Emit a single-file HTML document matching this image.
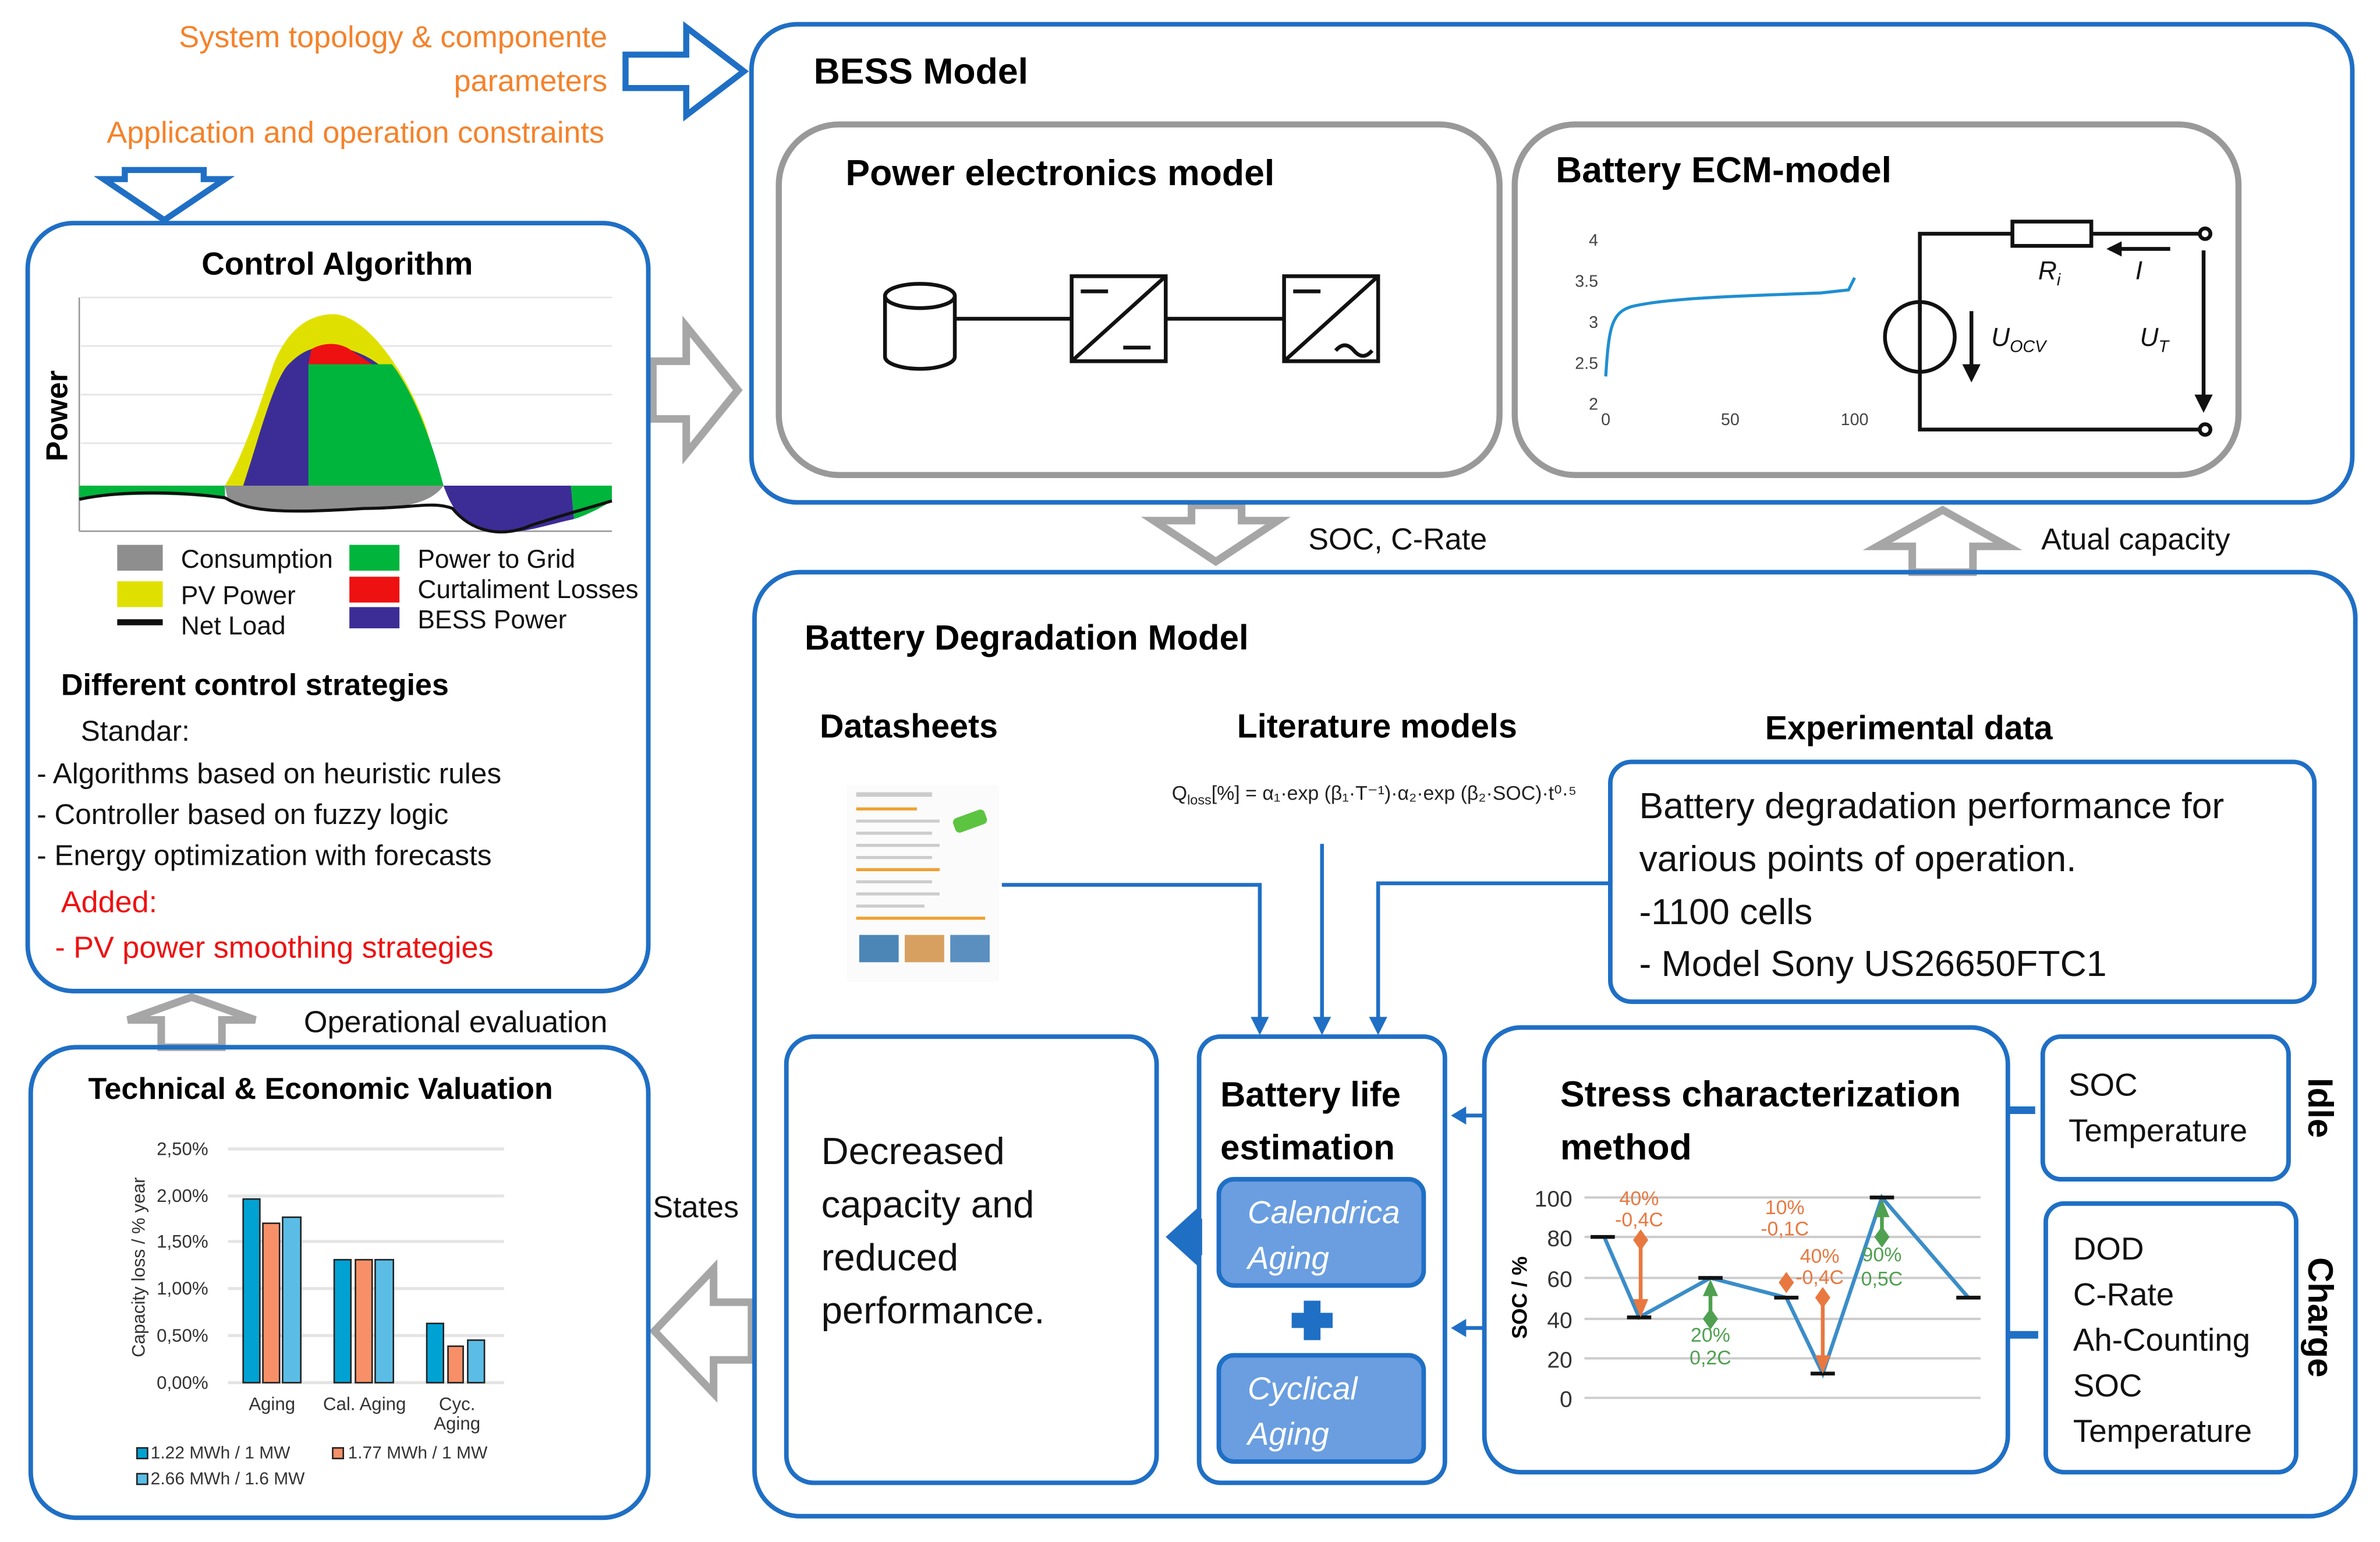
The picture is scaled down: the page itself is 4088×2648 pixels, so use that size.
<!DOCTYPE html>
<html><head><meta charset="utf-8"><style>
html,body{margin:0;padding:0;background:#fff}
svg{display:block}
text{font-family:"Liberation Sans",sans-serif}
</style></head><body>
<svg width="4088" height="2648" viewBox="0 0 1568 1016" xmlns="http://www.w3.org/2000/svg">
<rect width="1568" height="1016" fill="#fff"/>
<g fill="#f5822a" font-size="20">
<text x="400" y="31" text-anchor="end">System topology &amp; componente</text>
<text x="400" y="60" text-anchor="end">parameters</text>
<text x="398" y="94" text-anchor="end">Application and operation constraints</text>
</g>
<polygon points="412,36 452,36 452,18 490,47 452,76 452,58 412,58" fill="#fff" stroke="#1f6fc5" stroke-width="4"/>
<polygon points="82,112 134,112 134,118 148,118 108,145 68,118 82,118" fill="#fff" stroke="#1f6fc5" stroke-width="4"/>
<g fill="#fff" stroke="#a6a6a6" stroke-width="5">
<polygon points="430,238 452,238 452,215 486,257 452,299 452,276 430,276"/>
<polygon points="785,333 818,333 818,343 842,343 801,370 760,343 785,343"/>
<polygon points="1260,377 1300,377 1300,360 1323,360 1280,336 1237,360 1260,360"/>
<polygon points="106,690 146,690 146,672 168,672 126,657 84,672 106,672"/>
<polygon points="495,858 470,858 470,836 431,877 470,918 470,896 495,896"/>
</g>
<g font-size="20" fill="#111">
<text x="862" y="362">SOC, C-Rate</text>
<text x="1345" y="362">Atual capacity</text>
<text x="200" y="680">Operational evaluation</text>
<text x="430" y="802">States</text>
</g>
<rect x="495" y="16" width="1055" height="315" rx="30" fill="none" stroke="#1f6fc5" stroke-width="3"/>
<text x="536" y="55" font-size="24" font-weight="bold">BESS Model</text>
<rect x="513" y="82" width="475" height="231" rx="40" fill="none" stroke="#999" stroke-width="4"/>
<text x="557" y="122" font-size="24" font-weight="bold">Power electronics model</text>
<rect x="998" y="82" width="477" height="231" rx="40" fill="none" stroke="#999" stroke-width="4"/>
<text x="1025" y="120" font-size="24" font-weight="bold">Battery ECM-model</text>
<g stroke="#111" stroke-width="2.5" fill="none">
<path d="M583,195 v40 a23,8 0 0 0 46,0 v-40"/>
<ellipse cx="606" cy="195" rx="23" ry="8"/>
<line x1="629" y1="210" x2="706" y2="210"/>
<rect x="706" y="182" width="62" height="56"/>
<line x1="706" y1="238" x2="768" y2="182"/>
<line x1="712" y1="192" x2="730" y2="192"/>
<line x1="740" y1="229" x2="758" y2="229"/>
<line x1="768" y1="210" x2="846" y2="210"/>
<rect x="846" y="182" width="62" height="56"/>
<line x1="846" y1="238" x2="908" y2="182"/>
<line x1="852" y1="192" x2="870" y2="192"/>
<path d="M880,231 q6,-7 12,0 t12,0"/>
</g>
<g font-size="11" fill="#444">
<text x="1053" y="162" text-anchor="end">4</text>
<text x="1053" y="189" text-anchor="end">3.5</text>
<text x="1053" y="216" text-anchor="end">3</text>
<text x="1053" y="243" text-anchor="end">2.5</text>
<text x="1053" y="270" text-anchor="end">2</text>
<text x="1058" y="280" text-anchor="middle">0</text>
<text x="1140" y="280" text-anchor="middle">50</text>
<text x="1222" y="280" text-anchor="middle">100</text>
</g>
<path d="M1058,248 C1060,215 1062,206 1075,202 C1100,196 1150,195 1200,193 L1218,191 L1222,183" fill="none" stroke="#1f8fd0" stroke-width="2"/>
<g stroke="#111" stroke-width="2.5" fill="none">
<polyline points="1265,205 1265,154 1326,154"/>
<rect x="1326" y="146" width="52" height="16"/>
<line x1="1378" y1="154" x2="1450" y2="154"/>
<circle cx="1265" cy="222" r="23"/>
<line x1="1265" y1="199" x2="1265" y2="245"/>
<polyline points="1265,245 1265,283 1450,283"/>
<circle cx="1453" cy="154" r="3.5" fill="#fff"/>
<circle cx="1453" cy="283" r="3.5" fill="#fff"/>
<line x1="1299" y1="205" x2="1299" y2="243"/>
<line x1="1452" y1="165" x2="1452" y2="262"/>
<line x1="1390" y1="164" x2="1430" y2="164"/>
</g>
<polygon points="1293,240 1305,240 1299,252" fill="#111"/>
<polygon points="1446,260 1458,260 1452,272" fill="#111"/>
<polygon points="1388,164 1398,159 1398,169" fill="#111"/>
<g font-size="17" font-style="italic" fill="#111">
<text x="1343" y="184">R<tspan font-size="11" dy="4">i</tspan></text>
<text x="1407" y="184">I</text>
<text x="1312" y="228">U<tspan font-size="11" dy="4">OCV</tspan></text>
<text x="1410" y="228">U<tspan font-size="11" dy="4">T</tspan></text>
</g>
<rect x="18" y="147" width="409" height="506" rx="30" fill="none" stroke="#1f6fc5" stroke-width="3"/>
<text x="222" y="181" font-size="21" font-weight="bold" text-anchor="middle">Control Algorithm</text>
<g stroke="#e4e4e4" stroke-width="1">
<line x1="53" y1="196" x2="403" y2="196"/><line x1="53" y1="228" x2="403" y2="228"/>
<line x1="53" y1="260" x2="403" y2="260"/><line x1="53" y1="292" x2="403" y2="292"/>
</g>
<line x1="52" y1="196" x2="52" y2="350" stroke="#999"/>
<line x1="52" y1="350" x2="403" y2="350" stroke="#999"/>
<text transform="translate(44,274) rotate(-90)" font-size="20" font-weight="bold" text-anchor="middle">Power</text>
<path d="M148,320 C160,300 170,270 180,240 C190,215 205,207 220,207 C240,208 265,240 280,280 L292,320 Z" fill="#e0e000"/>
<path d="M160,320 C170,290 180,250 190,240 C198,232 205,228 220,228 C232,230 245,235 255,245 C270,260 282,290 290,320 Z" fill="#3c2d96"/>
<path d="M203,320 L203,240 L258,240 C270,255 283,285 292,320 Z" fill="#00b53c"/>
<path d="M203,240 L205,230 C212,226 222,225 230,230 L245,240 Z" fill="#ee1111"/>
<path d="M52,320 L148,320 L148,329 C120,325 80,325 52,329 Z" fill="#00b53c"/>
<path d="M148,320 L292,320 C285,330 270,335 240,335 C200,338 170,337 150,330 Z" fill="#8e8e8e"/>
<path d="M292,320 L376,320 L378,342 C350,348 330,358 305,342 C298,335 295,328 292,320 Z" fill="#3c2d96"/>
<path d="M376,320 L403,320 L403,330 C395,335 385,340 378,342 Z" fill="#00b53c"/>
<path d="M52,329 C80,323 120,324 148,328 C165,338 190,338 240,335 C270,335 285,330 298,335 C310,350 330,355 350,346 C375,338 390,334 403,330" fill="none" stroke="#111" stroke-width="2"/>
<rect x="77" y="359" width="30" height="17" fill="#8e8e8e"/>
<rect x="77" y="383" width="30" height="17" fill="#e0e000"/>
<rect x="77" y="408" width="30" height="4" fill="#111"/>
<rect x="230" y="359" width="33" height="17" fill="#00b53c"/>
<rect x="230" y="380" width="33" height="17" fill="#ee1111"/>
<rect x="230" y="400" width="33" height="14" fill="#3c2d96"/>
<g font-size="17" fill="#111">
<text x="119" y="374">Consumption</text>
<text x="119" y="398">PV Power</text>
<text x="119" y="418">Net Load</text>
<text x="275" y="374">Power to Grid</text>
<text x="275" y="394">Curtaliment Losses</text>
<text x="275" y="414">BESS Power</text>
</g>
<text x="40" y="458" font-size="20" font-weight="bold">Different control strategies</text>
<g font-size="19" fill="#111">
<text x="53" y="488">Standar:</text>
<text x="24" y="516">- Algorithms based on heuristic rules</text>
<text x="24" y="543">- Controller based on fuzzy logic</text>
<text x="24" y="570">- Energy optimization with forecasts</text>
</g>
<g font-size="20" fill="#ee1111">
<text x="40" y="601">Added:</text>
<text x="36" y="631">- PV power smoothing strategies</text>
</g>
<rect x="20" y="690" width="407" height="310" rx="30" fill="none" stroke="#1f6fc5" stroke-width="3"/>
<text x="211" y="724" font-size="20" font-weight="bold" text-anchor="middle">Technical &amp; Economic Valuation</text>
<g stroke="#e4e4e4" stroke-width="2">
<line x1="150" y1="757" x2="332" y2="757"/><line x1="150" y1="788" x2="332" y2="788"/>
<line x1="150" y1="818" x2="332" y2="818"/><line x1="150" y1="849" x2="332" y2="849"/>
<line x1="150" y1="880" x2="332" y2="880"/><line x1="150" y1="911" x2="332" y2="911"/>
</g>
<g font-size="12" fill="#333" text-anchor="end">
<text x="137" y="761">2,50%</text><text x="137" y="792">2,00%</text><text x="137" y="822">1,50%</text>
<text x="137" y="853">1,00%</text><text x="137" y="884">0,50%</text><text x="137" y="915">0,00%</text>
</g>
<text transform="translate(95,835) rotate(-90)" font-size="12" fill="#333" text-anchor="middle">Capacity loss / % year</text>
<g stroke="#222" stroke-width="1">
<rect x="160" y="790" width="11" height="121" fill="#00a2d4"/>
<rect x="173" y="806" width="11" height="105" fill="#f79068"/>
<rect x="186" y="802" width="12" height="109" fill="#5bbde6"/>
<rect x="220" y="830" width="11" height="81" fill="#00a2d4"/>
<rect x="234" y="830" width="11" height="81" fill="#f79068"/>
<rect x="247" y="830" width="12" height="81" fill="#5bbde6"/>
<rect x="281" y="872" width="11" height="39" fill="#00a2d4"/>
<rect x="295" y="887" width="10" height="24" fill="#f79068"/>
<rect x="308" y="883" width="11" height="28" fill="#5bbde6"/>
</g>
<g font-size="12" fill="#333" text-anchor="middle">
<text x="179" y="929">Aging</text><text x="240" y="929">Cal. Aging</text>
<text x="301" y="929">Cyc.</text><text x="301" y="942">Aging</text>
</g>
<g font-size="11.5" fill="#333">
<rect x="90" y="954" width="7" height="7" fill="#00a2d4" stroke="#222"/><text x="99" y="961">1.22 MWh / 1 MW</text>
<rect x="219" y="954" width="7" height="7" fill="#f79068" stroke="#222"/><text x="229" y="961">1.77 MWh / 1 MW</text>
<rect x="90" y="971" width="7" height="7" fill="#5bbde6" stroke="#222"/><text x="99" y="978">2.66 MWh / 1.6 MW</text>
</g>
<rect x="497" y="377" width="1055" height="622" rx="30" fill="none" stroke="#1f6fc5" stroke-width="3"/>
<text x="530" y="428" font-size="23" font-weight="bold">Battery Degradation Model</text>
<text x="540" y="486" font-size="22" font-weight="bold">Datasheets</text>
<text x="815" y="486" font-size="22" font-weight="bold">Literature models</text>
<text x="1163" y="487" font-size="22" font-weight="bold">Experimental data</text>
<rect x="558" y="517" width="100" height="130" fill="#fbfbfb"/>
<g fill="#ccc"><rect x="564" y="522" width="50" height="3"/><rect x="564" y="532" width="40" height="2" fill="#f0a030"/>
<rect x="564" y="540" width="55" height="2"/><rect x="564" y="548" width="50" height="2"/><rect x="564" y="556" width="55" height="2"/>
<rect x="564" y="564" width="50" height="2"/><rect x="564" y="572" width="55" height="2" fill="#f0a030"/><rect x="564" y="580" width="50" height="2"/>
<rect x="564" y="588" width="55" height="2"/><rect x="564" y="596" width="45" height="2"/><rect x="564" y="604" width="85" height="2" fill="#f0a030"/></g>
<rect x="628" y="536" width="22" height="10" rx="3" fill="#5cc440" transform="rotate(-20 639 541)"/>
<rect x="566" y="616" width="26" height="18" fill="#4b86b7"/><rect x="596" y="616" width="26" height="18" fill="#d8a060"/><rect x="626" y="616" width="26" height="18" fill="#5a8fc0"/>
<text x="772" y="527" font-size="13" font-family="Liberation Serif" fill="#222">Q<tspan font-size="9" dy="3">loss</tspan><tspan dy="-3">[%] = α₁·exp (β₁·T⁻¹)·α₂·exp (β₂·SOC)·t⁰·⁵</tspan></text>
<rect x="1061" y="502" width="464" height="158" rx="14" fill="none" stroke="#1f6fc5" stroke-width="3"/>
<g font-size="24" fill="#111">
<text x="1080" y="539">Battery degradation performance for</text>
<text x="1080" y="574">various points of operation.</text>
<text x="1080" y="609">-1100 cells</text>
<text x="1080" y="643">- Model Sony US26650FTC1</text>
</g>
<g stroke="#1f6fc5" stroke-width="2.5" fill="none">
<polyline points="660,583 830,583 830,672"/>
<line x1="871" y1="556" x2="871" y2="672"/>
<polyline points="1061,582 908,582 908,672"/>
<line x1="978" y1="735" x2="964" y2="735"/>
<line x1="978" y1="875" x2="964" y2="875"/>
</g>
<g fill="#1f6fc5">
<polygon points="824,670 836,670 830,682"/>
<polygon points="865,670 877,670 871,682"/>
<polygon points="902,670 914,670 908,682"/>
<polygon points="966,729 966,741 956,735"/>
<polygon points="966,869 966,881 956,875"/>
<polygon points="790,795 790,835 768,815"/>
<rect x="786" y="803" width="6" height="24"/>
<rect x="1323" y="729" width="18" height="5"/>
<rect x="1323" y="877" width="20" height="5"/>
</g>
<rect x="518" y="683" width="244" height="294" rx="18" fill="none" stroke="#1f6fc5" stroke-width="3"/>
<g font-size="25" fill="#111">
<text x="541" y="767">Decreased</text><text x="541" y="802">capacity and</text>
<text x="541" y="837">reduced</text><text x="541" y="872">performance.</text>
</g>
<rect x="790" y="683" width="162" height="294" rx="14" fill="none" stroke="#1f6fc5" stroke-width="3"/>
<text x="804" y="729" font-size="23" font-weight="bold">Battery life</text>
<text x="804" y="764" font-size="23" font-weight="bold">estimation</text>
<rect x="803" y="777" width="135" height="70" rx="10" fill="#6a9ee0" stroke="#1f6fc5" stroke-width="3"/>
<rect x="803" y="893" width="135" height="70" rx="10" fill="#6a9ee0" stroke="#1f6fc5" stroke-width="3"/>
<g font-size="21" font-style="italic" fill="#fff">
<text x="822" y="806">Calendrica</text><text x="822" y="836">Aging</text>
<text x="822" y="922">Cyclical</text><text x="822" y="952">Aging</text>
</g>
<rect x="859" y="857" width="11" height="26" fill="#1f6fc5"/>
<rect x="851" y="865" width="27" height="10" fill="#1f6fc5"/>
<rect x="978" y="677" width="345" height="293" rx="24" fill="none" stroke="#1f6fc5" stroke-width="3"/>
<text x="1028" y="729" font-size="24" font-weight="bold">Stress characterization</text>
<text x="1028" y="764" font-size="24" font-weight="bold">method</text>
<g stroke="#ccc" stroke-width="1.5">
<line x1="1044" y1="789" x2="1305" y2="789"/><line x1="1044" y1="815" x2="1305" y2="815"/>
<line x1="1044" y1="842" x2="1305" y2="842"/><line x1="1044" y1="869" x2="1305" y2="869"/>
<line x1="1044" y1="895" x2="1305" y2="895"/><line x1="1044" y1="921" x2="1305" y2="921"/>
</g>
<g font-size="15" fill="#333" text-anchor="end">
<text x="1036" y="795">100</text><text x="1036" y="821">80</text><text x="1036" y="848">60</text>
<text x="1036" y="875">40</text><text x="1036" y="901">20</text><text x="1036" y="927">0</text>
</g>
<text transform="translate(1006,855) rotate(-90)" font-size="14" font-weight="bold" text-anchor="middle">SOC / %</text>
<polyline points="1057,815 1080,868 1127,842 1177,855 1201,905 1240,789 1297,855" fill="none" stroke="#3b8dc8" stroke-width="2.5"/>
<g stroke="#111" stroke-width="2.5">
<line x1="1048" y1="815" x2="1064" y2="815"/><line x1="1072" y1="868" x2="1088" y2="868"/>
<line x1="1119" y1="842" x2="1135" y2="842"/><line x1="1169" y1="855" x2="1185" y2="855"/>
<line x1="1193" y1="905" x2="1209" y2="905"/><line x1="1232" y1="789" x2="1248" y2="789"/>
<line x1="1289" y1="855" x2="1305" y2="855"/>
</g>
<g stroke="#e87840" stroke-width="2.5" fill="#e87840">
<line x1="1081" y1="817" x2="1081" y2="858"/><polygon points="1076,856 1086,856 1081,868" stroke="none"/><polygon points="1081,810 1086,817 1081,824 1076,817" stroke="none"/>
<line x1="1201" y1="855" x2="1201" y2="895"/><polygon points="1196,893 1206,893 1201,905" stroke="none"/><polygon points="1201,848 1206,855 1201,862 1196,855" stroke="none"/>
<polygon points="1177,838 1182,845 1177,852 1172,845" stroke="none"/>
</g>
<g stroke="#4fa050" stroke-width="2.5" fill="#4fa050">
<line x1="1127" y1="852" x2="1127" y2="866"/><polygon points="1122,854 1132,854 1127,843" stroke="none"/><polygon points="1127,862 1132,869 1127,876 1122,869" stroke="none"/>
<line x1="1240" y1="800" x2="1240" y2="812"/><polygon points="1235,802 1245,802 1240,790" stroke="none"/><polygon points="1240,808 1245,815 1240,822 1235,815" stroke="none"/>
</g>
<g font-size="13" fill="#e87840" text-anchor="middle">
<text x="1080" y="794">40%</text><text x="1080" y="808">-0,4C</text>
<text x="1176" y="800">10%</text><text x="1176" y="814">-0,1C</text>
<text x="1199" y="832">40%</text><text x="1199" y="846">-0,4C</text>
</g>
<g font-size="13" fill="#4fa050" text-anchor="middle">
<text x="1127" y="884">20%</text><text x="1127" y="899">0,2C</text>
<text x="1240" y="831">90%</text><text x="1240" y="847">0,5C</text>
</g>
<rect x="1346" y="683" width="162" height="94" rx="12" fill="none" stroke="#1f6fc5" stroke-width="3"/>
<g font-size="21" fill="#111"><text x="1363" y="722">SOC</text><text x="1363" y="752">Temperature</text></g>
<rect x="1348" y="793" width="165" height="177" rx="12" fill="none" stroke="#1f6fc5" stroke-width="3"/>
<g font-size="21" fill="#111">
<text x="1366" y="830">DOD</text><text x="1366" y="860">C-Rate</text><text x="1366" y="890">Ah-Counting</text>
<text x="1366" y="920">SOC</text><text x="1366" y="950">Temperature</text>
</g>
<text transform="translate(1521,730) rotate(90)" font-size="23" font-weight="bold" text-anchor="middle">Idle</text>
<text transform="translate(1521,868) rotate(90)" font-size="23" font-weight="bold" text-anchor="middle">Charge</text>
</svg>
</body></html>
